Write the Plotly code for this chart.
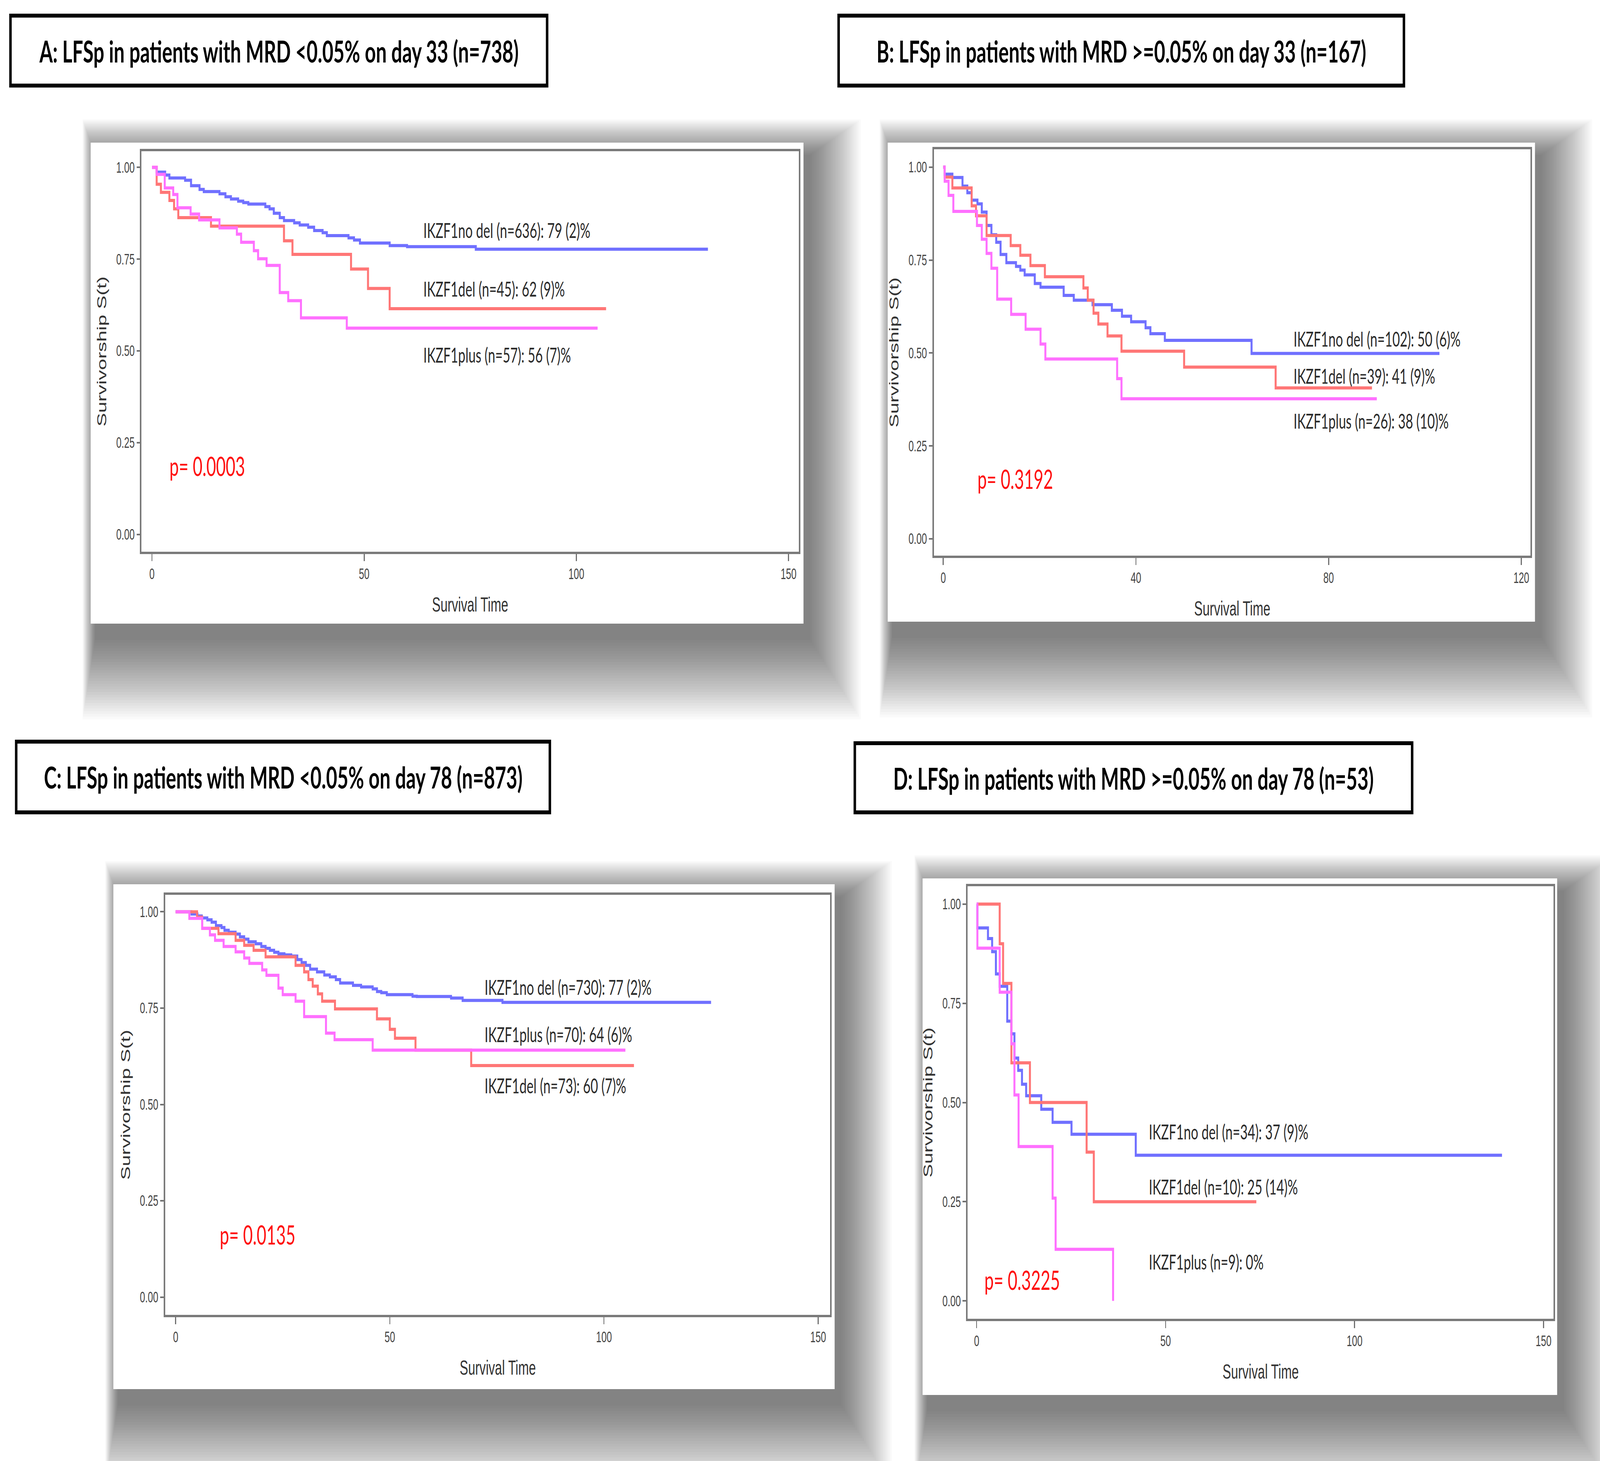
import plotly.graph_objects as go

W, H = 6422, 3739

# ---------------- data ----------------
A_nodel_t = [0, 1.1, 3.1, 4.1, 7.8, 9.2, 11.2, 12.2, 15.9, 17.3, 18.6, 20.3, 21.5, 22.7, 26.7, 27.7, 28.7, 30.1, 31.1, 33.5,
             34.8, 36.8, 38.2, 40.2, 41.2, 46.3, 47.6, 49.0, 56.0, 60.1, 76.3, 131.0]
A_nodel_s = [1.0, 0.987, 0.979, 0.971, 0.965, 0.950, 0.940, 0.934, 0.928, 0.920, 0.914, 0.908, 0.904, 0.900, 0.893, 0.887,
             0.875, 0.863, 0.855, 0.849, 0.843, 0.837, 0.828, 0.822, 0.814, 0.808, 0.802, 0.794, 0.787, 0.784, 0.777, 0.777]
A_del_t = [0, 1.1, 2.1, 4.1, 5.2, 6.2, 13.9, 31.1, 33.1, 46.9, 50.9, 56.0, 107.0]
A_del_s = [1.0, 0.954, 0.932, 0.910, 0.887, 0.863, 0.840, 0.800, 0.763, 0.723, 0.670, 0.615, 0.615]
A_plus_t = [0, 1.1, 3.0, 5.0, 6.0, 9.1, 11.1, 15.9, 20.0, 21.0, 24.0, 25.0, 27.0, 30.1, 32.1, 35.1, 45.9, 105.0]
A_plus_s = [1.0, 0.981, 0.944, 0.926, 0.890, 0.873, 0.857, 0.835, 0.818, 0.796, 0.773, 0.751, 0.733, 0.659, 0.637, 0.590,
            0.562, 0.562]

B_nodel_t = [0, 0.3, 1.9, 4.0, 5.0, 5.9, 7.1, 8.0, 9.0, 10.0, 11.0, 11.9, 13.1, 15.1, 16.0, 16.9, 19.0, 20.2, 25.0, 27.1,
             31.0, 35.0, 37.1, 39.0, 42.0, 43.0, 46.0, 64.0, 103.0]
B_nodel_s = [1.0, 0.981, 0.972, 0.949, 0.931, 0.911, 0.901, 0.879, 0.843, 0.818, 0.798, 0.765, 0.743, 0.733, 0.723, 0.710,
             0.687, 0.677, 0.655, 0.642, 0.630, 0.615, 0.599, 0.584, 0.568, 0.552, 0.534, 0.499, 0.499]
B_del_t = [0, 0.3, 1.9, 5.9, 6.8, 9.0, 14.0, 16.0, 18.1, 21.1, 29.1, 30.0, 31.2, 32.2, 34.1, 37.0, 50.0, 69.0, 89.0]
B_del_s = [1.0, 0.973, 0.944, 0.896, 0.869, 0.816, 0.789, 0.763, 0.735, 0.705, 0.675, 0.642, 0.607, 0.578, 0.546, 0.505,
           0.462, 0.406, 0.406]
B_plus_t = [0, 0.3, 1.1, 2.1, 7.0, 8.0, 9.0, 10.0, 11.2, 14.1, 17.1, 20.2, 21.2, 36.1, 37.0, 90.0]
B_plus_s = [1.0, 0.962, 0.924, 0.881, 0.843, 0.806, 0.768, 0.728, 0.645, 0.604, 0.564, 0.524, 0.484, 0.431, 0.377, 0.377]

C_nodel_t = [0, 3.7, 5.1, 6.1, 7.4, 8.4, 9.4, 10.7, 11.4, 12.4, 14.0, 15.0, 16.0, 17.0, 18.7, 20.0, 21.0, 22.0, 23.0, 24.0,
             25.4, 27.0, 28.4, 29.4, 30.4, 31.4, 33.0, 34.7, 36.0, 37.4, 38.4, 41.4, 43.3, 46.0, 47.0, 48.0, 49.3, 55.3,
             56.3, 64.3, 67.0, 76.3, 125.0]
C_nodel_s = [1.0, 0.994, 0.989, 0.984, 0.979, 0.973, 0.964, 0.959, 0.952, 0.947, 0.942, 0.935, 0.929, 0.922, 0.917, 0.910,
             0.905, 0.900, 0.895, 0.891, 0.888, 0.885, 0.876, 0.868, 0.861, 0.851, 0.844, 0.836, 0.831, 0.824, 0.815,
             0.809, 0.805, 0.800, 0.793, 0.790, 0.785, 0.781, 0.780, 0.776, 0.770, 0.765, 0.765]
C_del_t = [0, 5.0, 6.2, 10.0, 14.0, 16.0, 18.2, 21.0, 28.0, 30.0, 31.0, 32.0, 33.2, 34.2, 37.2, 47.0, 50.0, 51.2, 56.0,
           69.0, 107.0]
C_del_s = [1.0, 0.986, 0.957, 0.943, 0.926, 0.913, 0.900, 0.883, 0.861, 0.844, 0.824, 0.807, 0.787, 0.768, 0.748, 0.722,
           0.695, 0.672, 0.641, 0.601, 0.601]
C_plus_t = [0, 3.2, 6.2, 8.0, 9.2, 11.2, 14.0, 16.0, 17.2, 20.2, 21.2, 24.0, 25.0, 28.0, 30.0, 35.1, 37.1, 46.0, 105.0]
C_plus_s = [1.0, 0.983, 0.957, 0.940, 0.926, 0.910, 0.896, 0.880, 0.866, 0.849, 0.835, 0.802, 0.785, 0.768, 0.728, 0.685,
            0.668, 0.641, 0.641]

D_nodel_t = [0, 0.2, 3.0, 4.1, 5.1, 6.1, 8.1, 9.2, 10.0, 11.0, 12.0, 13.1, 17.1, 20.1, 25.1, 42.1, 139.0]
D_nodel_s = [1.0, 0.940, 0.913, 0.880, 0.824, 0.793, 0.705, 0.673, 0.612, 0.581, 0.546, 0.517, 0.483, 0.450, 0.420,
             0.367, 0.367]
D_del_t = [0, 6.1, 7.0, 9.2, 14.1, 29.1, 31.0, 74.0]
D_del_s = [1.0, 0.900, 0.800, 0.600, 0.500, 0.375, 0.250, 0.250]
D_plus_t = [0, 0.2, 6.1, 9.2, 10.0, 11.1, 20.1, 20.9, 36.1]
D_plus_s = [1.0, 0.889, 0.778, 0.648, 0.519, 0.389, 0.259, 0.130, 0.0]

titles = ["A: LFSp in patients with MRD <0.05% on day 33 (n=738)",
          "B: LFSp in patients with MRD >=0.05% on day 33 (n=167)",
          "C: LFSp in patients with MRD <0.05% on day 78 (n=873)",
          "D: LFSp in patients with MRD >=0.05% on day 78 (n=53)"]
labels_A = ["IKZF1no del (n=636): 79 (2)%", "IKZF1del (n=45): 62 (9)%", "IKZF1plus (n=57): 56 (7)%"]
labels_B = ["IKZF1no del (n=102): 50 (6)%", "IKZF1del (n=39): 41 (9)%", "IKZF1plus (n=26): 38 (10)%"]
labels_C = ["IKZF1no del (n=730): 77 (2)%", "IKZF1plus (n=70): 64 (6)%", "IKZF1del (n=73): 60 (7)%"]
labels_D = ["IKZF1no del (n=34): 37 (9)%", "IKZF1del (n=10): 25 (14)%", "IKZF1plus (n=9): 0%"]
pvalues = ["p= 0.0003", "p= 0.3192", "p= 0.0135", "p= 0.3225"]
y_ticks = [0, 0.25, 0.5, 0.75, 1.0]
y_ticktext = ["0.00", "0.25", "0.50", "0.75", "1.00"]
x_ticks_A = [0, 50, 100, 150]
x_ticks_B = [0, 40, 80, 120]

BLUE = "rgb(112,112,255)"
RED = "rgb(255,118,118)"
PINK = "rgb(255,112,255)"


def px(x):
    return x / W


def py(y):
    return 1 - y / H


# panel geometry in pixels (left, top, right, bottom)
panels = [
    dict(ax=(568, 387, 3206, 1412), xr=[-2.47, 152.4], yr=[-0.047, 1.044], xt=x_ticks_A,
         card=(364, 365, 3225, 1596), tbox=(42, 40, 2196, 219),
         curves=[(A_nodel_t, A_nodel_s, BLUE), (A_del_t, A_del_s, RED), (A_plus_t, A_plus_s, PINK)],
         labels=labels_A, lab_x=63.8, lab_y=[0.829, 0.669, 0.489], p_xy=(4.0, 0.187)),
    dict(ax=(3748, 382, 6143, 1422), xr=[-1.96, 121.9], yr=[-0.045, 1.048], xt=x_ticks_B,
         card=(3563, 365, 6161, 1591), tbox=(3366, 40, 5635, 219),
         curves=[(B_nodel_t, B_nodel_s, BLUE), (B_del_t, B_del_s, RED), (B_plus_t, B_plus_s, PINK)],
         labels=labels_B, lab_x=72.6, lab_y=[0.538, 0.438, 0.318], p_xy=(7.0, 0.162)),
    dict(ax=(663, 2290, 3332, 3365), xr=[-2.44, 152.8], yr=[-0.046, 1.044], xt=x_ticks_A,
         card=(455, 2263, 3350, 3555), tbox=(65, 1898, 2207, 2079),
         curves=[(C_nodel_t, C_nodel_s, BLUE), (C_del_t, C_del_s, RED), (C_plus_t, C_plus_s, PINK)],
         labels=labels_C, lab_x=72.0, lab_y=[0.805, 0.682, 0.549], p_xy=(10.2, 0.163)),
    dict(ax=(3884, 2268, 6235, 3375), xr=[-2.37, 152.6], yr=[-0.045, 1.045], xt=x_ticks_A,
         card=(3703, 2248, 6250, 3570), tbox=(3431, 1902, 5668, 2079),
         curves=[(D_nodel_t, D_nodel_s, BLUE), (D_del_t, D_del_s, RED), (D_plus_t, D_plus_s, PINK)],
         labels=labels_D, lab_x=45.4, lab_y=[0.427, 0.288, 0.0985], p_xy=(1.9, 0.053)),
]

fig = go.Figure()
shapes = []
annotations = []
layout_axes = {}

for i, p in enumerate(panels):
    n = "" if i == 0 else str(i + 1)
    xa, ya = "x" + n, "y" + n
    l, t, r, b = p["ax"]
    common = dict(ticks="outside", tickwidth=4, tickcolor="#707070",
                  showline=True, linecolor="#7a7a7a", linewidth=6, mirror=True,
                  showgrid=False, zeroline=False,
                  tickfont=dict(family="Liberation Sans", size=38, color="#444444"))
    layout_axes["xaxis" + n] = dict(domain=[px(l), px(r)], range=p["xr"], anchor=ya, tickvals=p["xt"],
                                    ticklen=18, **common)
    layout_axes["yaxis" + n] = dict(domain=[py(b), py(t)], range=p["yr"], anchor=xa, tickvals=y_ticks,
                                    ticktext=y_ticktext, ticklen=14, **common)

    for tt, ss, col in p["curves"]:
        fig.add_trace(go.Scatter(x=tt, y=ss, mode="lines", line=dict(color=col, width=8, shape="hv"),
                                 xaxis=xa, yaxis=ya, showlegend=False, hoverinfo="skip"))

    # soft drop shadow (mostly right / below) + white card
    cx0, cy0, cx1, cy1 = p["card"]
    nl = 30
    for k in range(nl, 0, -1):
        e = k * 7
        shapes.append(dict(type="rect", xref="paper", yref="paper", layer="below",
                           x0=px(cx0 - e * 0.25 + 20), x1=px(cx1 + e * 1.0 + 20),
                           y0=py(cy1 + e * 1.0 + 35), y1=py(cy0 - e * 0.45 + 35),
                           fillcolor="black", opacity=0.02, line=dict(width=0)))
    shapes.append(dict(type="rect", xref="paper", yref="paper", layer="below",
                       x0=px(cx0), x1=px(cx1), y0=py(cy1), y1=py(cy0),
                       fillcolor="white", line=dict(width=0)))

    # title box
    bx0, by0, bx1, by1 = p["tbox"]
    shapes.append(dict(type="rect", xref="paper", yref="paper",
                       x0=px(bx0), x1=px(bx1), y0=py(by1), y1=py(by0),
                       fillcolor="white", line=dict(color="black", width=10)))
    annotations.append(dict(x=px((bx0 + bx1) / 2), y=py((by0 + by1) / 2), xref="paper", yref="paper",
                            text="<b>" + titles[i] + "</b>", showarrow=False, xanchor="center", yanchor="middle",
                            font=dict(family="Lato", size=77, color="black")))

    # curve labels
    for lab, yy in zip(p["labels"], p["lab_y"]):
        annotations.append(dict(x=p["lab_x"], y=yy, xref=xa, yref=ya, text=lab, showarrow=False,
                                xanchor="left", yanchor="middle",
                                font=dict(family="Lato", size=52, color="#2a2a2a")))
    # p value
    annotations.append(dict(x=p["p_xy"][0], y=p["p_xy"][1], xref=xa, yref=ya, text=pvalues[i], showarrow=False,
                            xanchor="left", yanchor="middle",
                            font=dict(family="Lato", size=67, color="#ff1010")))
    # axis titles
    annotations.append(dict(x=px(l - 160), y=py((t + b) / 2), xref="paper", yref="paper",
                            text="Survivorship S(t)", textangle=-90, showarrow=False,
                            xanchor="center", yanchor="middle",
                            font=dict(family="Liberation Sans", size=52, color="#333333")))
    annotations.append(dict(x=px((l + r) / 2), y=py(b + 135), xref="paper", yref="paper",
                            text="Survival Time", showarrow=False, xanchor="center", yanchor="middle",
                            font=dict(family="Liberation Sans", size=51, color="#333333")))

fig.update_layout(
    width=W, height=H, margin=dict(l=0, r=0, t=0, b=0),
    paper_bgcolor="white", plot_bgcolor="rgba(0,0,0,0)",
    shapes=shapes, annotations=annotations, showlegend=False,
    **layout_axes)

# make the fixed-size figure fill the browser viewport exactly
fit_js = """
(function(){
  var gd = document.getElementById('{plot_id}');
  document.documentElement.style.margin = '0';
  document.documentElement.style.overflow = 'hidden';
  document.body.style.margin = '0';
  document.body.style.overflow = 'hidden';
  var sx = window.innerWidth / %d, sy = window.innerHeight / %d;
  gd.style.transformOrigin = '0 0';
  gd.style.transform = 'scale(' + sx + ',' + sy + ')';
})();
""" % (W, H)

fig.write_html("out.html", post_script=fit_js, config={"displayModeBar": False})
